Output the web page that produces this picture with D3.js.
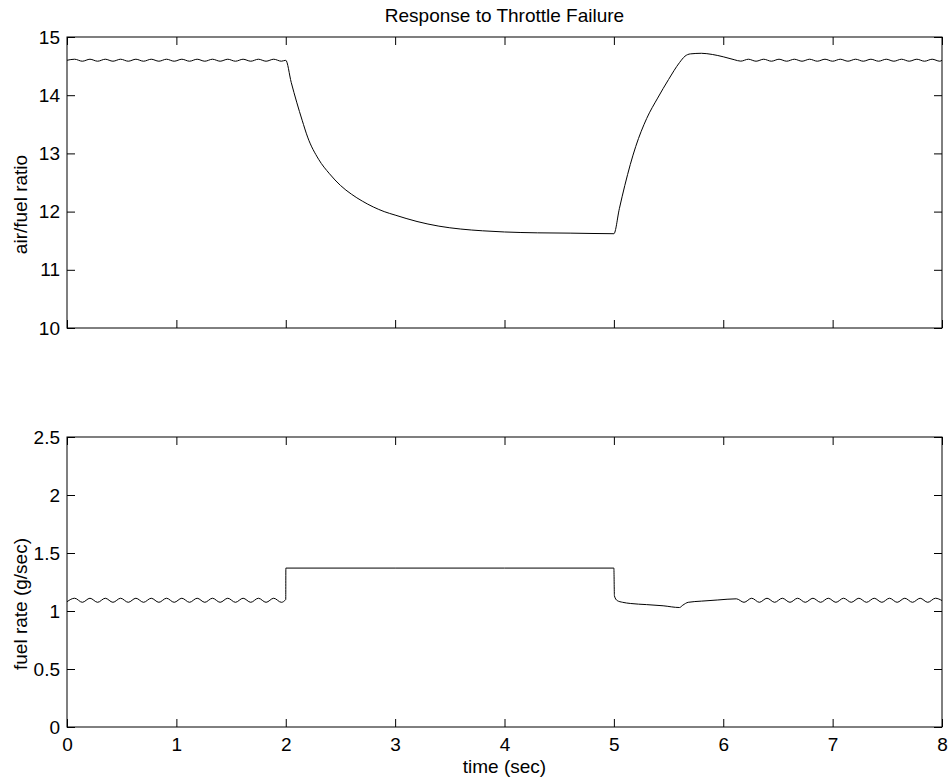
<!DOCTYPE html>
<html>
<head>
<meta charset="utf-8">
<script src="https://cdn.jsdelivr.net/npm/d3@7"></script>
<style>
  html, body { margin: 0; padding: 0; background: #fff; }
  svg text { font-family: "Liberation Sans", Arial, Helvetica, sans-serif; fill: #000; }
</style>
</head>
<body>
<svg id="chart" width="950" height="780"></svg>
<script>
// ---------------- DATA ----------------
const title = "Response to Throttle Failure";
const xLabel = "time (sec)";
const afrLabel = "air/fuel ratio";
const fuelLabel = "fuel rate (g/sec)";

const xTicks = [0, 1, 2, 3, 4, 5, 6, 7, 8];
const afrTicks = [10, 11, 12, 13, 14, 15];
const fuelTicks = [0, 0.5, 1, 1.5, 2, 2.5];

// air/fuel ratio (top panel)
const afrTime = [0,0.07,0.14,0.21,0.28,0.35,0.42,0.49,0.56,0.63,0.70,0.77,0.84,0.91,0.98,1.05,1.12,1.19,1.26,1.33,1.40,1.47,1.54,1.61,1.68,1.75,1.82,1.89,1.96,2.00,
  2.05,2.10,2.15,2.20,2.30,2.40,2.50,2.60,2.70,2.80,2.90,3.00,3.20,3.40,3.60,3.80,4.00,4.30,4.60,5.00,
  5.05,5.10,5.20,5.30,5.40,5.50,5.60,5.65,5.70,5.80,5.90,6.00,6.10,6.16,
  6.23,6.30,6.37,6.44,6.51,6.58,6.65,6.72,6.79,6.86,6.93,7.00,7.07,7.14,7.21,7.28,7.35,7.42,7.49,7.56,7.63,7.70,7.77,7.84,7.91,7.98,8.00];
const afrValues = [14.60,14.618,14.584,14.618,14.584,14.618,14.584,14.618,14.584,14.618,14.584,14.618,14.584,14.618,14.584,14.618,14.584,14.618,14.584,14.618,14.584,14.618,14.584,14.618,14.584,14.618,14.584,14.618,14.584,14.60,
  14.22,13.88,13.57,13.28,12.90,12.65,12.45,12.30,12.18,12.08,12.00,11.94,11.83,11.75,11.70,11.67,11.65,11.635,11.63,11.62,
  12.05,12.45,13.12,13.60,13.95,14.27,14.56,14.67,14.71,14.72,14.70,14.66,14.61,14.585,
  14.618,14.584,14.618,14.584,14.618,14.584,14.618,14.584,14.618,14.584,14.618,14.584,14.618,14.584,14.618,14.584,14.618,14.584,14.618,14.584,14.618,14.584,14.618,14.584,14.618,14.584,14.60];

// fuel rate (bottom panel)
const fuelTime = [0,0.07,0.14,0.21,0.28,0.35,0.42,0.49,0.56,0.63,0.70,0.77,0.84,0.91,0.98,1.05,1.12,1.19,1.26,1.33,1.40,1.47,1.54,1.61,1.68,1.75,1.82,1.89,1.96,2.00,
  2.001,3.00,4.00,5.00,
  5.005,5.03,5.08,5.15,5.30,5.45,5.60,5.63,5.68,5.80,5.95,6.12,
  6.19,6.26,6.33,6.40,6.47,6.54,6.61,6.68,6.75,6.82,6.89,6.96,7.03,7.10,7.17,7.24,7.31,7.38,7.45,7.52,7.59,7.66,7.73,7.80,7.87,7.94,8.00];
const fuelValues = [1.08,1.11,1.075,1.11,1.075,1.11,1.075,1.11,1.075,1.11,1.075,1.11,1.075,1.11,1.075,1.11,1.075,1.11,1.075,1.11,1.075,1.11,1.075,1.11,1.075,1.11,1.075,1.11,1.075,1.10,
  1.37,1.37,1.37,1.37,
  1.13,1.09,1.075,1.065,1.055,1.045,1.03,1.05,1.075,1.085,1.095,1.105,
  1.075,1.11,1.075,1.11,1.075,1.11,1.075,1.11,1.075,1.11,1.075,1.11,1.075,1.11,1.075,1.11,1.075,1.11,1.075,1.11,1.075,1.11,1.075,1.11,1.075,1.11,1.09];

// ---------------- LAYOUT ----------------
const svg = d3.select("#chart");
const left = 67, right = 942;
const panels = [
  { top: 37, bottom: 328, domain: [10, 15], ticks: afrTicks, label: afrLabel, labelShift: 22, time: afrTime, values: afrValues, showX: false },
  { top: 437, bottom: 727, domain: [0, 2.5], ticks: fuelTicks, label: fuelLabel, labelShift: 22, time: fuelTime, values: fuelValues, showX: true }
];
const fontSize = 19;
const tickLen = 8;

const x = d3.scaleLinear().domain([0, 8]).range([left, right]);

svg.append("text")
  .attr("x", (left + right) / 2).attr("y", 22)
  .attr("text-anchor", "middle")
  .style("font-size", fontSize + "px")
  .text(title);

panels.forEach(p => {
  const y = d3.scaleLinear().domain(p.domain).range([p.bottom, p.top]);
  const g = svg.append("g");

  const axB = d3.axisBottom(x).tickValues(xTicks).tickSizeInner(-tickLen).tickSizeOuter(0)
    .tickFormat(p.showX ? d3.format("d") : () => "").tickPadding(11);
  const axT = d3.axisTop(x).tickValues(xTicks).tickSizeInner(-tickLen).tickSizeOuter(0).tickFormat(() => "");
  const axL = d3.axisLeft(y).tickValues(p.ticks).tickSizeInner(-tickLen).tickSizeOuter(0)
    .tickFormat(d => d3.format("")(d)).tickPadding(7);
  const axR = d3.axisRight(y).tickValues(p.ticks).tickSizeInner(-tickLen).tickSizeOuter(0).tickFormat(() => "");

  [
    g.append("g").attr("transform", `translate(0,${p.bottom})`).call(axB),
    g.append("g").attr("transform", `translate(0,${p.top})`).call(axT),
    g.append("g").attr("transform", `translate(${left},0)`).call(axL),
    g.append("g").attr("transform", `translate(${right},0)`).call(axR)
  ].forEach(a => {
    a.select(".domain").remove();
    a.selectAll("line").attr("stroke", "#000").attr("stroke-width", 1);
    a.selectAll("text").style("font-size", fontSize + "px")
      .style("font-family", '"Liberation Sans", Arial, sans-serif').attr("fill", "#000");
  });

  g.append("rect")
    .attr("x", left).attr("y", p.top)
    .attr("width", right - left).attr("height", p.bottom - p.top)
    .attr("fill", "none").attr("stroke", "#000").attr("stroke-width", 1);

  g.append("text")
    .attr("transform", `translate(27,${(p.top + p.bottom) / 2 + p.labelShift}) rotate(-90)`)
    .attr("text-anchor", "middle")
    .style("font-size", fontSize + "px")
    .text(p.label);

  const pts = p.time.map((t, i) => [t, p.values[i]]);
  const line = d3.line().x(d => x(d[0])).y(d => y(d[1])).curve(d3.curveMonotoneX);
  g.append("path").datum(pts)
    .attr("d", line)
    .attr("fill", "none").attr("stroke", "#000").attr("stroke-width", 1);

  if (p.showX) {
    g.append("text")
      .attr("x", (left + right) / 2).attr("y", 773)
      .attr("text-anchor", "middle")
      .style("font-size", fontSize + "px")
      .text(xLabel);
  }
});
</script>
</body>
</html>
